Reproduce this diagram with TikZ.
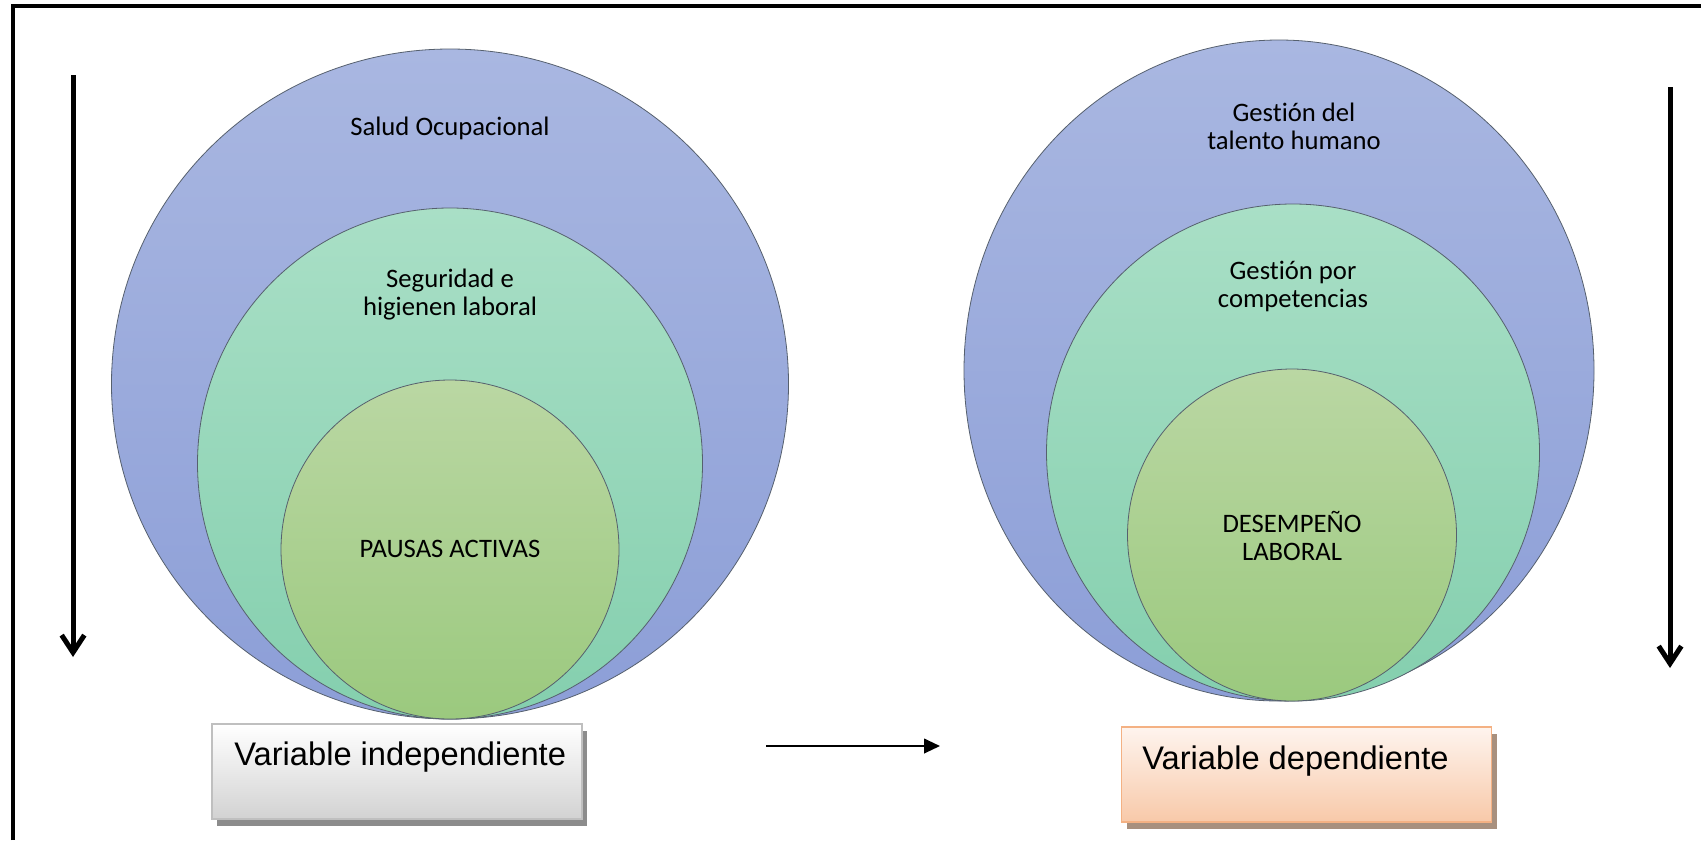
\documentclass[tikz,border=0pt]{standalone}
\usepackage{fontspec}
\setmainfont{Carlito}[Ligatures=NoCommon]
\newfontfamily\arialf{Liberation Sans}
\usetikzlibrary{shapes.geometric,arrows.meta,shadows}
\definecolor{bluetop}{HTML}{A9B7E1}
\definecolor{bluebot}{HTML}{8C9ED7}
\definecolor{greentop}{HTML}{A9DFC6}
\definecolor{greenbot}{HTML}{84CFAE}
\definecolor{ltop}{HTML}{BAD7A3}
\definecolor{lbot}{HTML}{9BC97E}
\definecolor{circline}{HTML}{56606E}
\definecolor{graybox}{HTML}{BFBFBF}
\definecolor{graybot}{HTML}{D2D2D2}
\definecolor{orgline}{HTML}{F4B183}
\definecolor{orgtop}{HTML}{FEF4EE}
\definecolor{orgbot}{HTML}{F8C9A9}
\definecolor{orgshadow}{HTML}{A8907E}
\tikzset{
  ring/.style={ellipse, draw=circline, line width=0.6pt, inner sep=0pt},
  outerring/.style={ring, top color=bluetop, bottom color=bluebot},
  midring/.style={ring, top color=greentop, bottom color=greenbot},
  innerring/.style={ring, top color=ltop, bottom color=lbot},
  lbl/.style={align=center, font=\fontsize{20}{21}\selectfont, inner sep=0pt},
  varbox/.style={rectangle, inner sep=0pt, line width=1.2pt, minimum width=370*0.75pt, minimum height=95*0.75pt},
  vartext/.style={anchor=base west, inner sep=0pt, font=\arialf\fontsize{24.5}{28}\selectfont},
  vbar/.style={line width=3.75pt, -{Straight Barb[length=13pt,width=17pt]}},
  harrow/.style={line width=1.5pt, -{Triangle[length=12pt,width=11pt]}}
}
\begin{document}
\begin{tikzpicture}[x=0.75pt,y=-0.75pt]
\useasboundingbox (0,0) rectangle (1701,840);
\fill[white] (0,0) rectangle (1701,840);
% frame
\draw[line width=2.5pt] (13,840) -- (13,6) -- (1701,6);
% left circles
\node[outerring, minimum width=677*0.75pt, minimum height=670*0.75pt] (lo) at (450,384) {};
\node[midring, minimum width=505*0.75pt, minimum height=511*0.75pt] (lm) at (450,463.5) {};
\node[innerring, minimum width=338*0.75pt, minimum height=339*0.75pt] (li) at (450,549.5) {};
\node[lbl] (t1) at (450,128) {Salud Ocupacional};
\node[lbl] (t2) at (450,295) {Seguridad e\\higienen laboral};
\node[lbl] (t3) at (450,549) {PAUSAS ACTIVAS};
% right circles
\node[outerring, minimum width=630*0.75pt, minimum height=661*0.75pt] (ro) at (1279,370.5) {};
\node[midring, minimum width=493*0.75pt, minimum height=497*0.75pt] (rm) at (1293,452.5) {};
\node[innerring, minimum width=329*0.75pt, minimum height=332*0.75pt] (ri) at (1292,535) {};
\node[lbl] (t4) at (1294,126) {Gestión del\\talento humano};
\node[lbl] (t5) at (1293,286) {Gestión por\\competencias};
\node[lbl] (t6) at (1292,536) {DESEMPEÑO\\LABORAL};
% boxes
\node[varbox, draw=graybox, top color=white, bottom color=graybot,
      drop shadow={shadow xshift=3.75pt, shadow yshift=-5pt, fill=black!45, opacity=1}] (vi) at (397,771.5) {};
\node[vartext] (vit) at (234,765) {Variable independiente};
\node[varbox, draw=orgline, top color=orgtop, bottom color=orgbot,
      drop shadow={shadow xshift=3.75pt, shadow yshift=-5pt, fill=orgshadow, opacity=1}] (vd) at (1306.5,774.5) {};
\node[vartext] (vdt) at (1142,769) {Variable dependiente};
% arrows
\coordinate (a1s) at (73,75);
\coordinate (a1e) at (73,657);
\coordinate (a2s) at (1670,87);
\coordinate (a2e) at (1670,668);
\coordinate (hs) at (766,746);
\coordinate (he) at (940,746);
\draw[vbar] (a1s) -- (a1e);
\draw[vbar] (a2s) -- (a2e);
\draw[harrow] (hs) -- (he);
\end{tikzpicture}
\end{document}
